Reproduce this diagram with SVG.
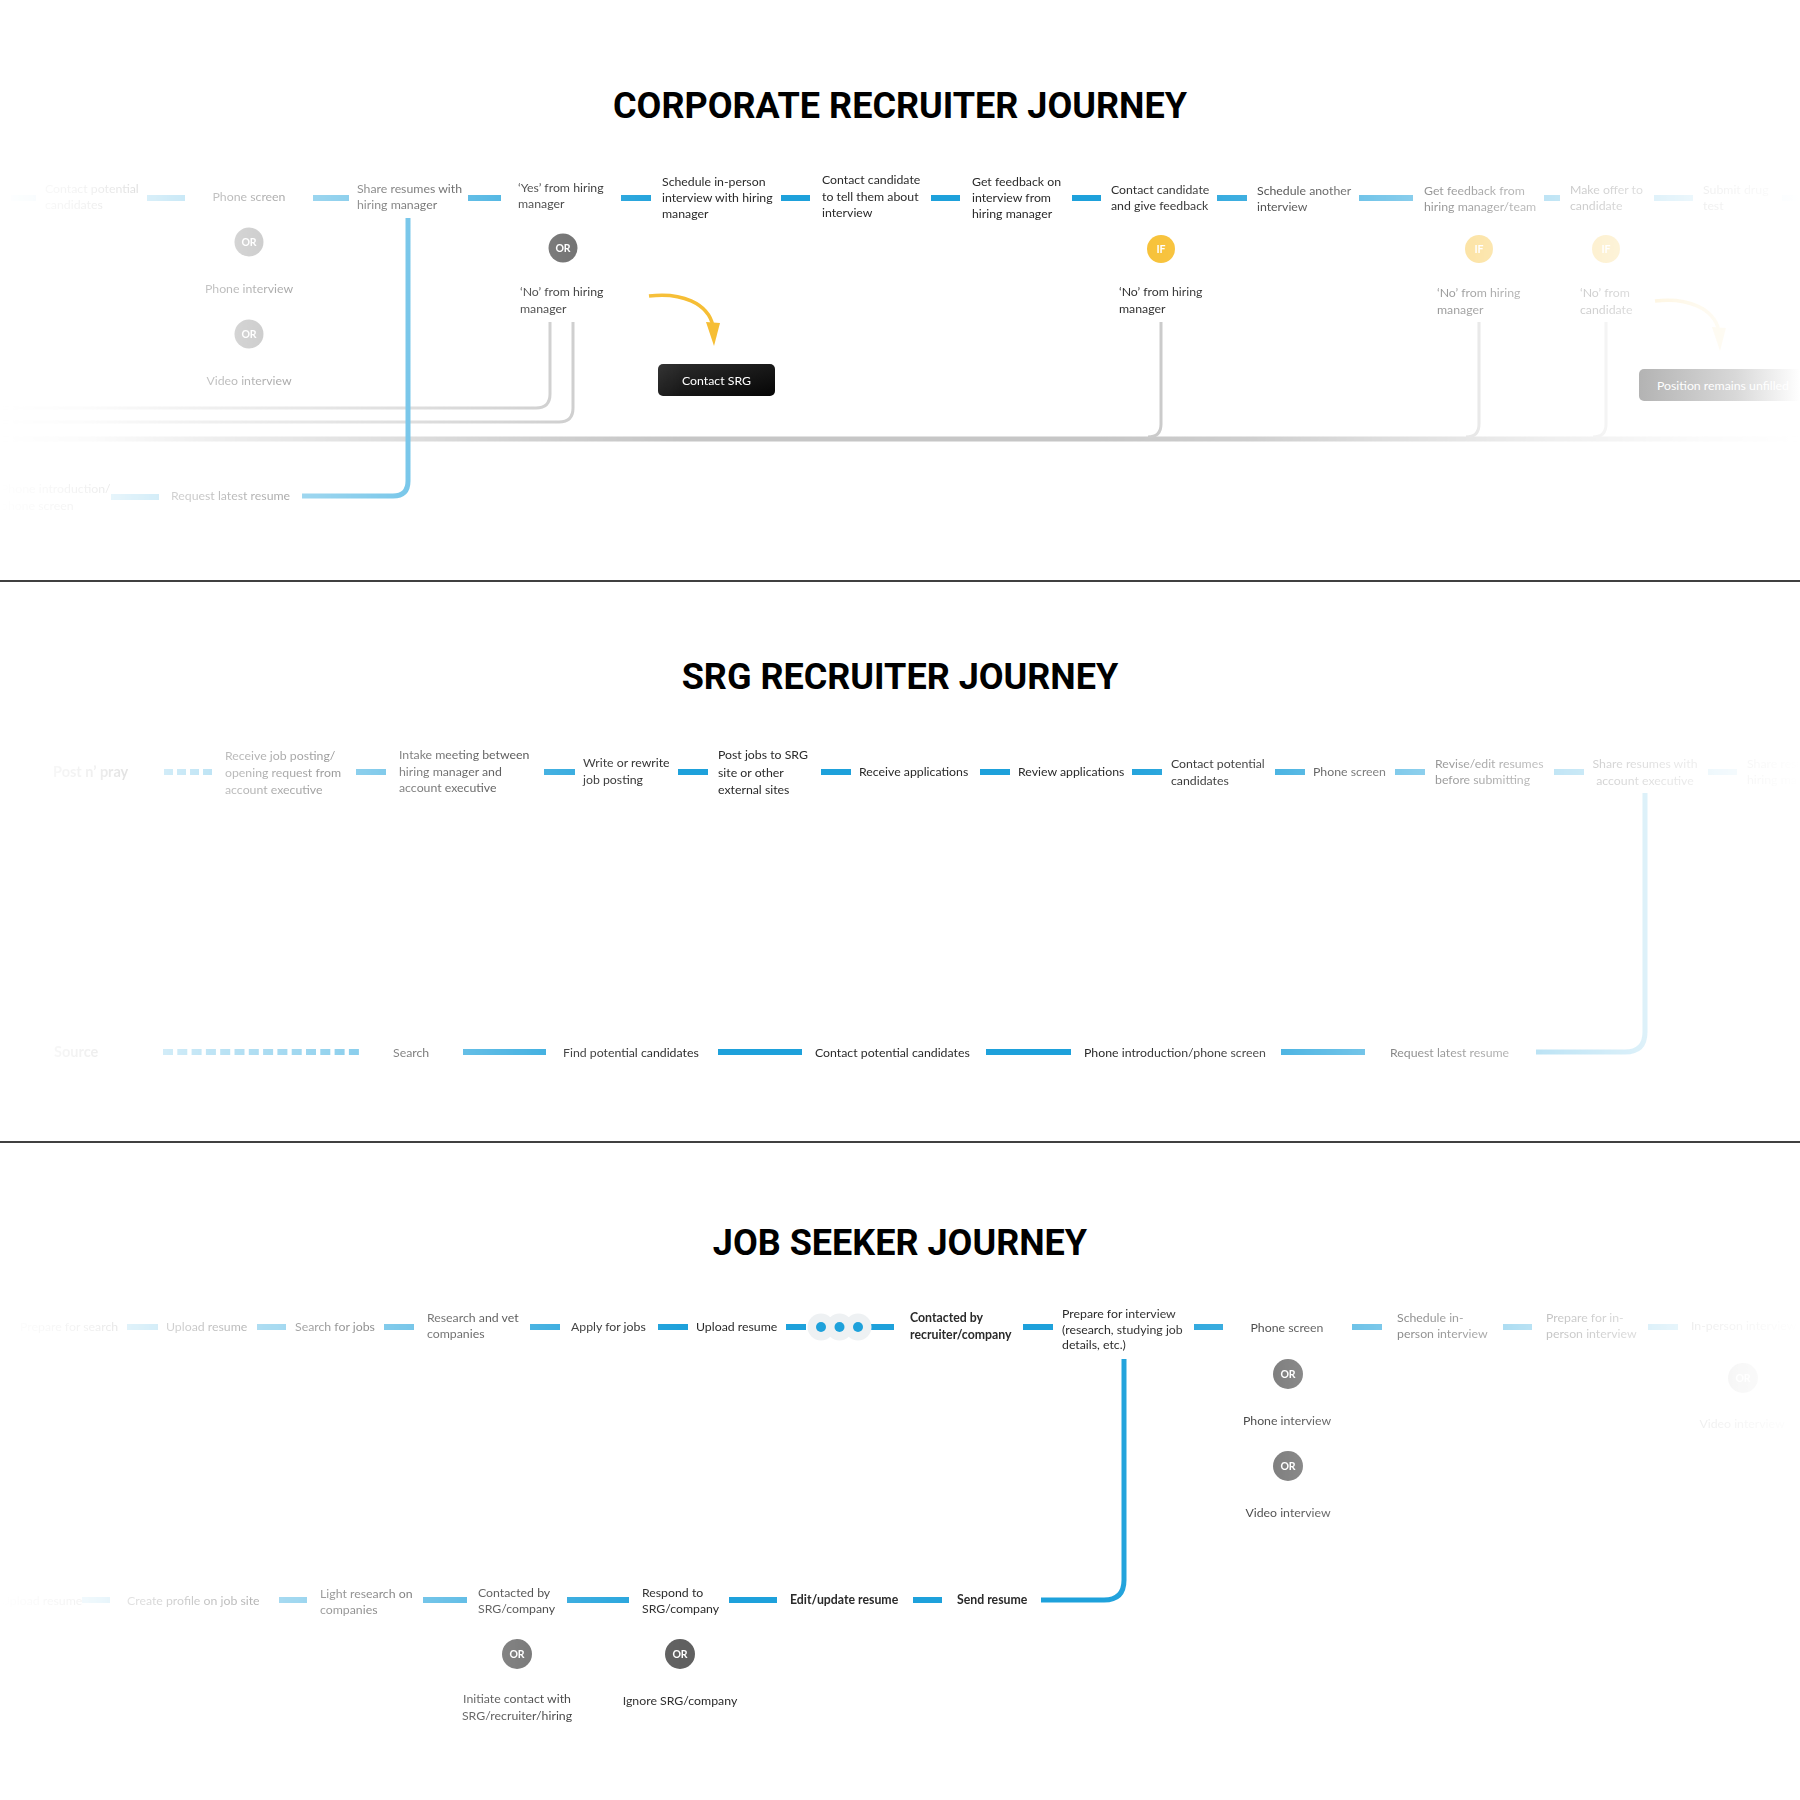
<svg xmlns="http://www.w3.org/2000/svg" width="1800" height="1800" viewBox="0 0 1800 1800">
<defs>
<style>
.t{font-family:Lato,"Noto Sans","DejaVu Sans",sans-serif;font-size:12.3px;fill:#2a2a2a}
.m{text-anchor:middle}
.b{font-weight:700}
.big{font-size:14.5px;font-weight:700}
.h{font-family:Roboto,"Liberation Sans",sans-serif;font-size:36px;font-weight:700;fill:#000;text-anchor:middle}
.ct{font-family:Lato,"Noto Sans",sans-serif;font-size:10.5px;font-weight:700;fill:#fff;text-anchor:middle}
.d{stroke:#1ea1db;stroke-width:6;fill:none}
.bl{stroke:#1ea1db;stroke-width:5;fill:none}
.gl{stroke:#c8c8c8;stroke-width:3;fill:none}
.gm{stroke:#c6c6c6;stroke-width:5;fill:none}
.ya{stroke:#f6be35;stroke-width:3.5;fill:none}
.if{fill:#f7bf30}
.sep{stroke:#000;stroke-width:1.5}
</style>
<linearGradient id="fade" gradientUnits="userSpaceOnUse" x1="0" y1="0" x2="1800" y2="0">
<stop offset="0" stop-color="#fff" stop-opacity="0"/>
<stop offset="0.05" stop-color="#fff" stop-opacity="0.07"/>
<stop offset="0.122" stop-color="#fff" stop-opacity="0.3"/>
<stop offset="0.222" stop-color="#fff" stop-opacity="0.58"/>
<stop offset="0.311" stop-color="#fff" stop-opacity="0.85"/>
<stop offset="0.378" stop-color="#fff" stop-opacity="1"/>
<stop offset="0.611" stop-color="#fff" stop-opacity="1"/>
<stop offset="0.694" stop-color="#fff" stop-opacity="0.85"/>
<stop offset="0.778" stop-color="#fff" stop-opacity="0.55"/>
<stop offset="0.861" stop-color="#fff" stop-opacity="0.28"/>
<stop offset="0.944" stop-color="#fff" stop-opacity="0.08"/>
<stop offset="1" stop-color="#fff" stop-opacity="0"/>
</linearGradient>
<mask id="fm" maskUnits="userSpaceOnUse" x="0" y="0" width="1800" height="1800">
<rect x="0" y="0" width="1800" height="1800" fill="url(#fade)"/>
</mask>
<linearGradient id="srg" x1="0" y1="0" x2="1" y2="1">
<stop offset="0" stop-color="#2e2e2e"/>
<stop offset="1" stop-color="#050505"/>
</linearGradient>
<linearGradient id="pos" gradientUnits="userSpaceOnUse" x1="1639" y1="0" x2="1800" y2="0">
<stop offset="0" stop-color="#b3b3b3"/>
<stop offset="0.6" stop-color="#d8d8d8"/>
<stop offset="1" stop-color="#fff"/>
</linearGradient>
</defs>
<rect width="1800" height="1800" fill="#fff"/>

<g id="titles">
<text class="h" x="900" y="118">CORPORATE RECRUITER JOURNEY</text>
<text class="h" x="900" y="689">SRG RECRUITER JOURNEY</text>
<text class="h" x="900" y="1255">JOB SEEKER JOURNEY</text>
<line class="sep" x1="0" y1="581" x2="1800" y2="581"/>
<line class="sep" x1="0" y1="1142" x2="1800" y2="1142"/>
</g>

<g id="content" mask="url(#fm)">
<g id="connectors">
<path class="d" d="M11 198H36M147 198H185M313 198H349M468 198H501M621 198H651M781 198H810M931 198H960M1072 198H1101M1217 198H1247M1359 198H1413M1544 198H1560M1654 198H1693M1782 198H1800"/>
<path class="d" d="M111 497H159"/>
<path class="d" d="M164 772H212" stroke-dasharray="9 4"/>
<path class="d" d="M356 772H386M544 772H575M678 772H708M821 772H851M980 772H1010M1132 772H1162M1275 772H1305M1395 772H1425M1554 772H1584M1708 772H1737"/>
<path class="d" d="M163 1052H362" stroke-dasharray="10 4.3"/>
<path class="d" d="M463 1052H546M718 1052H802M986 1052H1071M1281 1052H1365"/>
<path class="d" d="M127 1327H158M257 1327H286M384 1327H414M530 1327H560M658 1327H688M786 1327H806M871 1327H894M1023 1327H1053M1194 1327H1223M1352 1327H1382M1503 1327H1532M1648 1327H1678"/>
<path class="d" d="M82 1600H110M279 1600H307M423 1600H467M567 1600H629M729 1600H777M913 1600H942"/>
<path class="gm" d="M0 439H1800"/>
<path class="gl" d="M550 322V394Q550 408 536 408H0"/>
<path class="gl" d="M573 322V408Q573 422 559 422H0"/>
<path class="gl" d="M1161 322V424Q1161 437 1148 437"/>
<path class="gl" d="M1479 322V424Q1479 437 1466 437"/>
<path class="gl" d="M1606 322V424Q1606 437 1593 437"/>
<path class="bl" d="M408 218V481Q408 496 393 496H302"/>
<path class="bl" d="M1645 793V1032Q1645 1052 1625 1052H1536"/>
<path class="bl" d="M1124 1359V1580Q1124 1600 1104 1600H1041"/>
<path class="ya" d="M649 296C681 292 708 303 713 326"/>
<polygon fill="#f6be35" points="706,322 720,323 714,346"/>
<path class="ya" d="M1655 301C1687 297 1714 308 1719 331"/>
<polygon fill="#f6be35" points="1712,327 1726,328 1720,351"/>
</g>

<g id="corp-contact-potential"><text class="t" x="45" y="192.5">Contact potential</text><text class="t" x="45" y="208.5">candidates</text></g>
<g id="corp-phone-screen">
<text class="t m" x="249" y="200.5">Phone screen</text>
<circle cx="249" cy="242" r="14.5" fill="#7a7a7a"/><text class="ct" x="249" y="246">OR</text>
<text class="t m" x="249" y="292.5">Phone interview</text>
<circle cx="249" cy="334" r="14.5" fill="#7a7a7a"/><text class="ct" x="249" y="338">OR</text>
<text class="t m" x="249" y="384.5">Video interview</text>
</g>
<g id="corp-phone-intro"><text class="t" x="1" y="492.5">Phone introduction/</text><text class="t" x="1" y="509.5">phone screen</text></g>
<g id="corp-request-resume"><text class="t" x="171" y="499.5">Request latest resume</text></g>
<g id="corp-share-resumes"><text class="t" x="357" y="192.5">Share resumes with</text><text class="t" x="357" y="208.5">hiring manager</text></g>
<g id="corp-yes">
<text class="t" x="518" y="191.5">‘Yes’ from hiring</text><text class="t" x="518" y="207.5">manager</text>
<circle cx="563" cy="248" r="14.5" fill="#606060"/><text class="ct" x="563" y="252">OR</text>
<text class="t" x="520" y="295.5">‘No’ from hiring</text><text class="t" x="520" y="312.5">manager</text>
</g>
<g id="corp-schedule-inperson"><text class="t" x="662" y="185.5">Schedule in-person</text><text class="t" x="662" y="201.5">interview with hiring</text><text class="t" x="662" y="217.5">manager</text></g>
<g id="corp-contact-srg"><rect x="658" y="364" width="117" height="32" rx="5" fill="url(#srg)"/><text class="t m" x="716.5" y="384.5" style="fill:#fff">Contact SRG</text></g>
<g id="corp-contact-candidate"><text class="t" x="822" y="183.5">Contact candidate</text><text class="t" x="822" y="200.5">to tell them about</text><text class="t" x="822" y="216.5">interview</text></g>
<g id="corp-get-feedback"><text class="t" x="972" y="185.5">Get feedback on</text><text class="t" x="972" y="201.5">interview from</text><text class="t" x="972" y="217.5">hiring manager</text></g>
<g id="corp-give-feedback">
<text class="t" x="1111" y="193.5">Contact candidate</text><text class="t" x="1111" y="209.5">and give feedback</text>
<circle class="if" cx="1161" cy="249" r="14"/><text class="ct" x="1161" y="253">IF</text>
<text class="t" x="1119" y="295.5">‘No’ from hiring</text><text class="t" x="1119" y="312.5">manager</text>
</g>
<g id="corp-schedule-another"><text class="t" x="1257" y="194.5">Schedule another</text><text class="t" x="1257" y="210.5">interview</text></g>
<g id="corp-feedback-team">
<text class="t" x="1424" y="194.5">Get feedback from</text><text class="t" x="1424" y="210.5">hiring manager/team</text>
<circle class="if" cx="1479" cy="249" r="14"/><text class="ct" x="1479" y="253">IF</text>
<text class="t" x="1437" y="296.5">‘No’ from hiring</text><text class="t" x="1437" y="313.5">manager</text>
</g>
<g id="corp-make-offer">
<text class="t" x="1570" y="193.5">Make offer to</text><text class="t" x="1570" y="209.5">candidate</text>
<circle class="if" cx="1606" cy="249" r="14"/><text class="ct" x="1606" y="253">IF</text>
<text class="t" x="1580" y="296.5">‘No’ from</text><text class="t" x="1580" y="313.5">candidate</text>
</g>
<g id="corp-drug-test"><text class="t" x="1703" y="193.5">Submit drug</text><text class="t" x="1703" y="209.5">test</text></g>

<g id="srg-post-pray"><text class="t big" x="53" y="777">Post n’ pray</text></g>
<g id="srg-receive-posting"><text class="t" x="225" y="759.5">Receive job posting/</text><text class="t" x="225" y="776.5">opening request from</text><text class="t" x="225" y="793.5">account executive</text></g>
<g id="srg-intake"><text class="t" x="399" y="758.5">Intake meeting between</text><text class="t" x="399" y="775.5">hiring manager and</text><text class="t" x="399" y="791.5">account executive</text></g>
<g id="srg-write"><text class="t" x="583" y="766.5">Write or rewrite</text><text class="t" x="583" y="783.5">job posting</text></g>
<g id="srg-post-jobs"><text class="t" x="718" y="758.5">Post jobs to SRG</text><text class="t" x="718" y="776.5">site or other</text><text class="t" x="718" y="793.5">external sites</text></g>
<g id="srg-receive-apps"><text class="t" x="859" y="775.5">Receive applications</text></g>
<g id="srg-review-apps"><text class="t" x="1018" y="775.5">Review applications</text></g>
<g id="srg-contact-potential"><text class="t" x="1171" y="767.5">Contact potential</text><text class="t" x="1171" y="784.5">candidates</text></g>
<g id="srg-phone-screen"><text class="t" x="1313" y="775.5">Phone screen</text></g>
<g id="srg-revise"><text class="t" x="1435" y="767.5">Revise/edit resumes</text><text class="t" x="1435" y="783.5">before submitting</text></g>
<g id="srg-share-ae"><text class="t m" x="1645" y="767.5">Share resumes with</text><text class="t m" x="1645" y="784.5">account executive</text></g>
<g id="srg-share-hm"><text class="t" x="1747" y="767.5">Share resumes with</text><text class="t" x="1747" y="783.5">hiring manager</text></g>
<g id="srg-source"><text class="t big" x="54" y="1057">Source</text></g>
<g id="srg-search"><text class="t" x="393" y="1056.5">Search</text></g>
<g id="srg-find"><text class="t" x="563" y="1056.5">Find potential candidates</text></g>
<g id="srg-contact"><text class="t" x="815" y="1056.5">Contact potential candidates</text></g>
<g id="srg-phone-intro"><text class="t" x="1084" y="1056.5">Phone introduction/phone screen</text></g>
<g id="srg-request"><text class="t" x="1390" y="1056.5">Request latest resume</text></g>

<g id="js-prepare-search"><text class="t" x="20" y="1331">Prepare for search</text></g>
<g id="js-upload-1"><text class="t" x="166" y="1331">Upload resume</text></g>
<g id="js-search-jobs"><text class="t" x="295" y="1331">Search for jobs</text></g>
<g id="js-research"><text class="t" x="427" y="1321.5">Research and vet</text><text class="t" x="427" y="1337.5">companies</text></g>
<g id="js-apply"><text class="t" x="571" y="1331">Apply for jobs</text></g>
<g id="js-upload-2"><text class="t" x="696" y="1331">Upload resume</text></g>
<g id="js-wait">
<circle cx="821" cy="1327" r="13.5" fill="#eef1f3"/><circle cx="858" cy="1327" r="13.5" fill="#eef1f3"/><circle cx="839.5" cy="1327" r="13.5" fill="#eef1f3"/>
<circle cx="821" cy="1327" r="5" fill="#1ea1db"/><circle cx="839.5" cy="1327" r="5" fill="#1ea1db"/><circle cx="858" cy="1327" r="5" fill="#1ea1db"/>
</g>
<g id="js-contacted-recruiter"><text class="t b" x="910" y="1321.5">Contacted by</text><text class="t b" x="910" y="1338.5">recruiter/company</text></g>
<g id="js-prepare-interview"><text class="t" x="1062" y="1317.5">Prepare for interview</text><text class="t" x="1062" y="1333.5">(research, studying job</text><text class="t" x="1062" y="1348.5">details, etc.)</text></g>
<g id="js-phone-screen">
<text class="t m" x="1287" y="1331.5">Phone screen</text>
<circle cx="1288" cy="1374" r="15" fill="#606060"/><text class="ct" x="1288" y="1378">OR</text>
<text class="t m" x="1287" y="1424.5">Phone interview</text>
<circle cx="1288" cy="1466" r="15" fill="#606060"/><text class="ct" x="1288" y="1470">OR</text>
<text class="t m" x="1288" y="1516.5">Video interview</text>
</g>
<g id="js-schedule"><text class="t" x="1397" y="1321.5">Schedule in-</text><text class="t" x="1397" y="1337.5">person interview</text></g>
<g id="js-prepare-inperson"><text class="t" x="1546" y="1321.5">Prepare for in-</text><text class="t" x="1546" y="1337.5">person interview</text></g>
<g id="js-inperson">
<text class="t" x="1691" y="1329.5">In-person interview</text>
<circle cx="1743" cy="1378" r="15" fill="#606060"/><text class="ct" x="1743" y="1382">OR</text>
<text class="t m" x="1742" y="1427.5">Video interview</text>
</g>
<g id="js-upload-3"><text class="t" x="1" y="1605">Upload resume</text></g>
<g id="js-create-profile"><text class="t" x="127" y="1605">Create profile on job site</text></g>
<g id="js-light-research"><text class="t" x="320" y="1597.5">Light research on</text><text class="t" x="320" y="1613.5">companies</text></g>
<g id="js-contacted-srg">
<text class="t" x="478" y="1596.5">Contacted by</text><text class="t" x="478" y="1612.5">SRG/company</text>
<circle cx="517" cy="1654" r="15" fill="#5a5a5a"/><text class="ct" x="517" y="1658">OR</text>
<text class="t m" x="517" y="1702.5">Initiate contact with</text><text class="t m" x="517" y="1719.5">SRG/recruiter/hiring</text>
</g>
<g id="js-respond">
<text class="t" x="642" y="1596.5">Respond to</text><text class="t" x="642" y="1612.5">SRG/company</text>
<circle cx="680" cy="1654" r="15" fill="#606060"/><text class="ct" x="680" y="1658">OR</text>
<text class="t m" x="680" y="1704.5">Ignore SRG/company</text>
</g>
<g id="js-edit"><text class="t b" x="790" y="1604">Edit/update resume</text></g>
<g id="js-send"><text class="t b" x="957" y="1604">Send resume</text></g>
</g>

<g id="corp-position-unfilled"><rect x="1639" y="369" width="175" height="32" rx="5" fill="url(#pos)"/><text class="t" x="1657" y="389.5" style="fill:#fff">Position remains unfilled</text></g>
</svg>
